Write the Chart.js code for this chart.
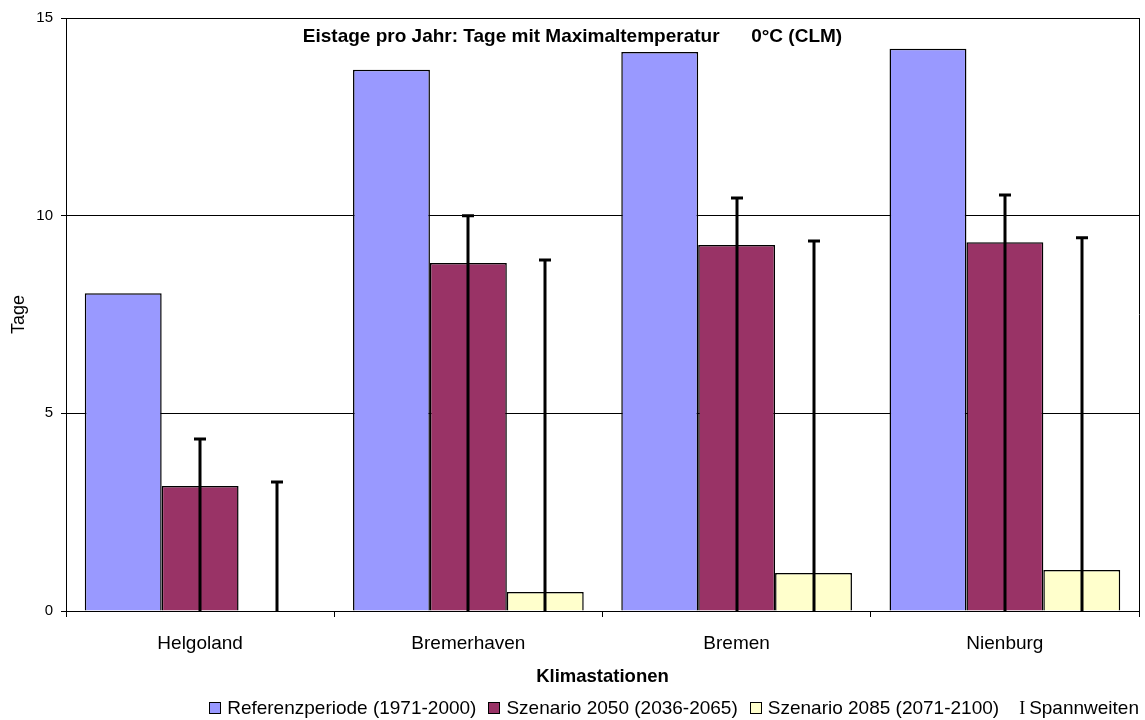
<!DOCTYPE html>
<html lang="de">
<head>
<meta charset="utf-8">
<title>Eistage pro Jahr</title>
<script src="https://cdn.jsdelivr.net/npm/chart.js@4/dist/chart.umd.min.js"></script>
<style>
    body { margin: 0; background: #fff; }
    #wrap { position: relative; width: 1145px; height: 720px; }
    #legend {
        position: absolute;
        right: 6px;
        top: 697px;
        display: flex;
        align-items: center;
        font-family: "Liberation Sans", Arial, sans-serif;
        font-size: 19px;
        color: #000;
        white-space: nowrap;
    }
    .item { display: flex; align-items: center; margin-left: 12px; }
    .box { width: 10px; height: 10px; border: 1px solid #000; margin-right: 6px; }
    .bar-i { font-family: "Liberation Serif", "Times New Roman", serif; font-size: 18px; margin-left: 20px; margin-right: 4px; }
</style>
</head>
<body>
<div id="wrap">
    <canvas id="climateChart" width="1145" height="720"></canvas>
    <div id="legend"></div>
</div>
<script>
const categories = ["Helgoland", "Bremerhaven", "Bremen", "Nienburg"];

// Tage pro Jahr
const referenz = [8.04, 13.69, 14.14, 14.22];
const szenario2050 = [3.16, 8.80, 9.26, 9.33];
const szenario2085 = [0, 0.48, 0.96, 1.04];

// obere Enden der Spannweiten (Linie von 0 bis Maximum)
const spanne2050 = [4.35, 10.0, 10.45, 10.52];
const spanne2085 = [3.26, 8.88, 9.36, 9.44];

const yTicks = [0, 5, 10, 15];

const seriesNames = ["Referenzperiode (1971-2000)", "Szenario 2050 (2036-2065)", "Szenario 2085 (2071-2100)"];
const seriesColors = ["#9999FF", "#993366", "#FFFFCC"];

const chartTitle = "Eistage pro Jahr: Tage mit Maximaltemperatur      0°C (CLM)";

const FONT = "'Liberation Sans', Arial, sans-serif";
Chart.defaults.font.family = FONT;
Chart.defaults.color = "#000";

/* Spannweiten als senkrechte Linien mit Kappe oben */
const rangePlugin = {
    id: "rangeLines",
    afterDatasetsDraw(chart) {
        const c = chart.ctx;
        const y = chart.scales.y;
        const ranges = [null, spanne2050, spanne2085];

        c.save();
        c.strokeStyle = "#000";
        c.lineWidth = 3;
        ranges.forEach((vals, i) => {
            if (!vals) return;
            const meta = chart.getDatasetMeta(i);
            meta.data.forEach((bar, j) => {
                const x = Math.round(bar.x);
                const top = y.getPixelForValue(vals[j]);
                c.beginPath();
                c.moveTo(x, y.getPixelForValue(0));
                c.lineTo(x, top);
                c.moveTo(x - 6, top);
                c.lineTo(x + 6, top);
                c.stroke();
            });
        });
        c.restore();
    }
};

/* Rahmen rechts und Titel innerhalb der Zeichenfläche */
const framePlugin = {
    id: "frameAndTitle",
    afterDraw(chart) {
        const c = chart.ctx;
        const a = chart.chartArea;
        c.save();
        c.strokeStyle = "#000";
        c.lineWidth = 1;
        c.beginPath();
        c.moveTo(a.right + 0.5, a.top);
        c.lineTo(a.right + 0.5, a.bottom);
        c.stroke();

        c.font = "bold 19px " + FONT;
        c.fillStyle = "#000";
        c.textAlign = "center";
        c.textBaseline = "middle";
        c.fillText(chartTitle, chart.width / 2, a.top + 19);
        c.restore();
    }
};

function buildLegend() {
    const legend = document.getElementById("legend");
    seriesNames.forEach((name, i) => {
        const item = document.createElement("span");
        item.className = "item";
        const box = document.createElement("span");
        box.className = "box";
        box.style.background = seriesColors[i];
        item.appendChild(box);
        item.appendChild(document.createTextNode(name));
        legend.appendChild(item);
    });
    const mark = document.createElement("span");
    mark.className = "bar-i";
    mark.textContent = "I";
    legend.appendChild(mark);
    legend.appendChild(document.createTextNode("Spannweiten"));
}

function drawChart() {
    const ctx = document.getElementById("climateChart").getContext("2d");
    const datasets = [referenz, szenario2050, szenario2085].map((values, i) => ({
        label: seriesNames[i],
        data: values,
        backgroundColor: seriesColors[i],
        borderColor: "#000",
        borderWidth: 1.5,
        categoryPercentage: 0.86,
        barPercentage: 1.0
    }));

    new Chart(ctx, {
        type: "bar",
        data: { labels: categories, datasets: datasets },
        plugins: [rangePlugin, framePlugin],
        options: {
            responsive: false,
            animation: false,
            layout: { padding: { top: 18, right: 6, left: 0, bottom: 0 } },
            plugins: {
                legend: { display: false },
                title: { display: false },
                tooltip: { enabled: false }
            },
            scales: {
                x: {
                    offset: true,
                    afterFit: (scale) => { scale.height = 109; },
                    grid: {
                        offset: true,
                        drawOnChartArea: false,
                        drawTicks: true,
                        tickLength: 6,
                        color: "#000"
                    },
                    border: { color: "#000", width: 1 },
                    ticks: { font: { size: 19 }, padding: 15, color: "#000" },
                    title: {
                        display: true,
                        text: "Klimastationen",
                        font: { size: 18.5, weight: "bold" },
                        padding: { top: 0, bottom: 32 }
                    }
                },
                y: {
                    min: 0,
                    max: 15,
                    afterFit: (scale) => { scale.width = 66; },
                    afterBuildTicks: (scale) => {
                        scale.ticks = yTicks.map(v => ({ value: v }));
                    },
                    grid: { color: "#000", tickLength: 5 },
                    border: { color: "#000", width: 1 },
                    ticks: { font: { size: 15 }, padding: 8, color: "#000" },
                    title: {
                        display: true,
                        text: "Tage",
                        font: { size: 18 },
                        padding: { top: 8, bottom: 0 }
                    }
                }
            }
        }
    });
}

buildLegend();
drawChart();
</script>
</body>
</html>
